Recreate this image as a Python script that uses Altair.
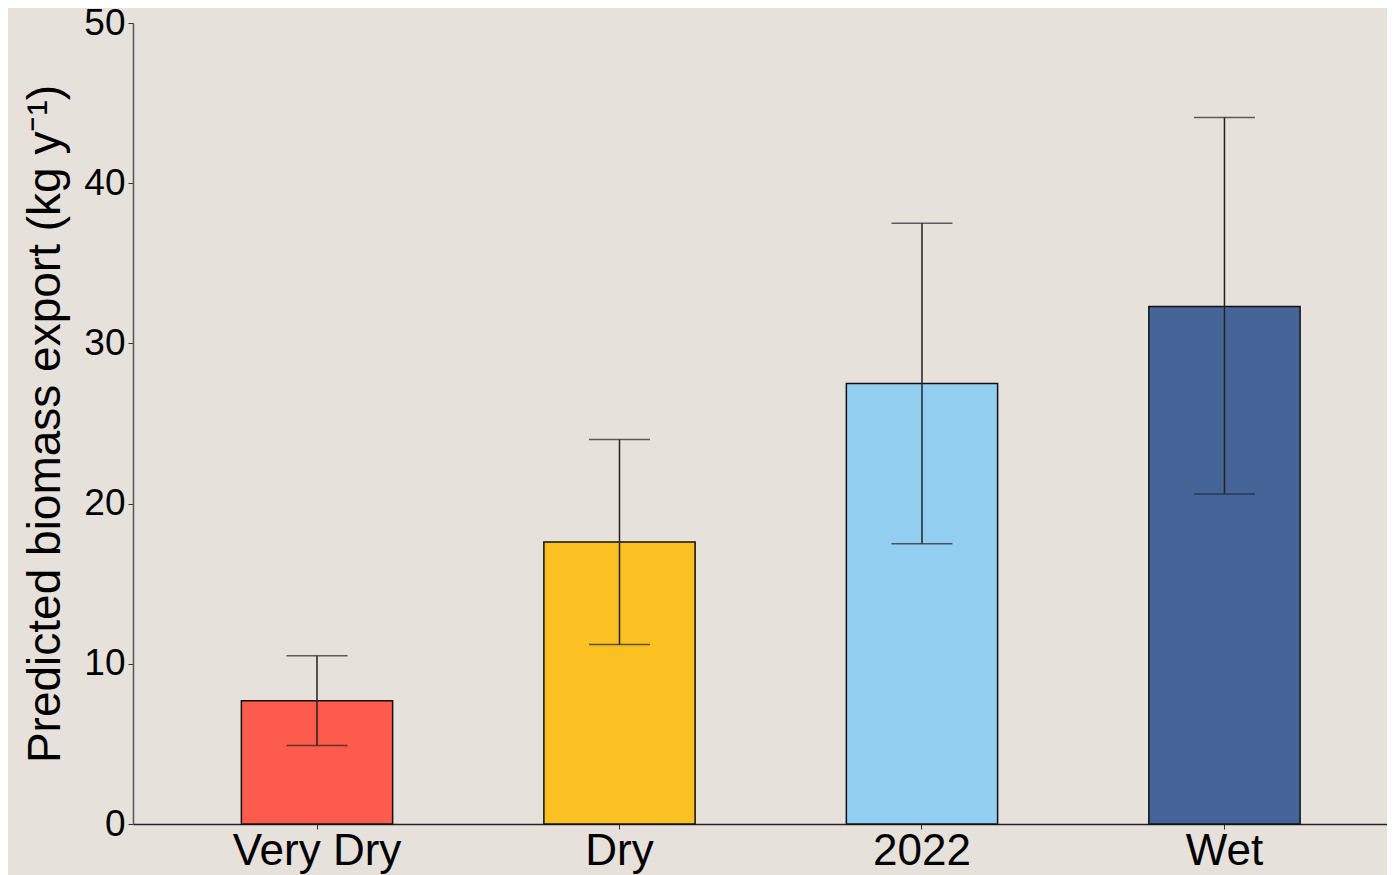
import altair as alt
import pandas as pd

categories = ["Very Dry", "Dry", "2022", "Wet"]
means = [7.7, 17.6, 27.5, 32.3]
lower = [4.9, 11.2, 17.5, 20.6]
upper = [10.5, 24.0, 37.5, 44.1]
colors = ["#FD5B4B", "#FBC021", "#92CEF0", "#456599"]

df = pd.DataFrame({"cat": categories, "mean": means, "lo": lower, "hi": upper})

FONT = "Liberation Sans"
BG = "#E6E2DB"

xenc = alt.X(
    "cat:N",
    sort=categories,
    scale=alt.Scale(paddingInner=0.5, paddingOuter=0.3228, align=0.555),
    axis=alt.Axis(
        title=None, labelAngle=0, labelFontSize=44, labelFont=FONT, labelColor="#000000",
        tickSize=5, tickColor="#333333", domainColor="#222222", domainWidth=1.5,
        labelPadding=0,
    ),
)

yscale = alt.Scale(domain=[0, 50], nice=False)

bars = alt.Chart(df).mark_bar(stroke="#111111", strokeWidth=1.5).encode(
    x=xenc,
    y=alt.Y(
        "mean:Q",
        scale=yscale,
        axis=alt.Axis(
            title="Predicted biomass export (kg y⁻¹)",
            values=[0, 10, 20, 30, 40, 50], grid=False,
            labelFontSize=37, labelFont=FONT, labelColor="#000000",
            titleFontSize=46, titleFont=FONT, titleFontWeight="normal", titleColor="#000000",
            tickSize=5, tickColor="#333333", domainColor="#555555", domainWidth=1.5,
            labelPadding=3, titlePadding=14,
        ),
    ),
    color=alt.Color("cat:N", scale=alt.Scale(domain=categories, range=colors), legend=None),
)

rules = alt.Chart(df).mark_rule(color="#222222", strokeWidth=1.5).encode(
    x=alt.X("cat:N", sort=categories),
    y=alt.Y("lo:Q", scale=yscale),
    y2="hi:Q",
)

caps_hi = alt.Chart(df).mark_tick(color="#222222", thickness=1.5, size=61).encode(
    x=alt.X("cat:N", sort=categories),
    y=alt.Y("hi:Q", scale=yscale),
)
caps_lo = alt.Chart(df).mark_tick(color="#222222", thickness=1.5, size=61).encode(
    x=alt.X("cat:N", sort=categories),
    y=alt.Y("lo:Q", scale=yscale),
)

chart = (
    alt.layer(bars, rules, caps_hi, caps_lo)
    .properties(
        width=1254, height=801, background=BG,
        autosize=alt.AutoSizeParams(type="none"),
        padding={"left": 125, "top": 15, "right": 0, "bottom": 51},
    )
    .configure_view(stroke=None)
)

chart.save("out.html", embed_options={"renderer": "svg", "actions": False})
